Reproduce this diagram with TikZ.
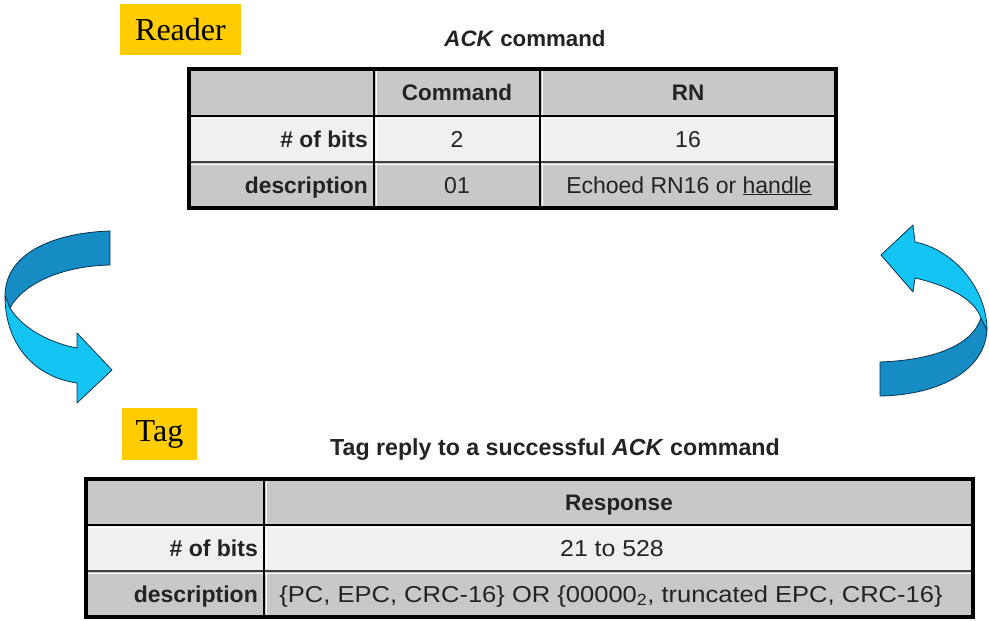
\documentclass[tikz,border=0pt]{standalone}
\usepackage{fontspec}
\setmainfont{Liberation Sans}
\newfontfamily\tnr{Liberation Serif}
\definecolor{ybox}{RGB}{255,204,0}
\definecolor{hgray}{RGB}{200,200,200}
\definecolor{lgray}{RGB}{240,240,240}
\definecolor{alight}{RGB}{20,196,242}
\definecolor{adark}{RGB}{22,140,196}
\definecolor{aline}{RGB}{10,50,80}
\definecolor{txt}{RGB}{35,35,35}
\begin{document}
\begin{tikzpicture}[x=1pt,y=-1pt,
  tagbox/.style={fill=ybox, inner sep=0pt, font=\tnr\fontsize{32}{36}\selectfont},
  ttl/.style={font=\bfseries\fontsize{22.3}{26}\selectfont, inner sep=0pt, anchor=base, text=txt},
  hdr/.style={font=\bfseries\fontsize{22.5}{25}\selectfont, inner sep=0pt, anchor=base, text=txt},
  lbl/.style={font=\bfseries\fontsize{22.8}{25}\selectfont, inner sep=0pt, anchor=base east, text=txt},
  val/.style={font=\fontsize{23}{26}\selectfont, inner sep=0pt, anchor=base, text=txt},
  grid/.style={line width=2.2pt, black},
  frame/.style={line width=4pt, black},
  hl/.style={line width=1pt, white},
  ribbon/.style={draw=aline, line width=0.8pt, line join=round}]
\useasboundingbox (0,0) rectangle (989,621);

% ---------- labels ----------
\node[tagbox, minimum width=121pt, minimum height=51pt] (reader) at (180.5,29.5) {Reader};
\node[tagbox, minimum width=75pt, minimum height=52pt] (tag) at (159.5,434) {Tag};
\node[ttl] (t1) at (525,46) {\textit{ACK} command};
\node[ttl, font=\bfseries\fontsize{23.2}{26}\selectfont] (t2) at (555,455) {Tag reply to a successful \textit{ACK} command};

% ---------- top table ----------
\fill[hgray] (189,69) rectangle (836,116);
\fill[lgray] (189,116) rectangle (836,162);
\fill[hgray] (189,162) rectangle (836,208);
\draw[hl] (191,118) -- (834,118);
\draw[hl] (191,164) -- (834,164);
\draw[hl] (376,71) -- (376,206);
\draw[hl] (542,71) -- (542,206);
\draw[grid] (189,116) -- (836,116);
\draw[grid, line width=1.4pt, black!75] (189,162) -- (836,162);
\draw[grid] (374,69) -- (374,208);
\draw[grid] (540,69) -- (540,208);
\draw[frame] (189,69) rectangle (836,208);

\node[hdr] (c1) at (457,100) {Command};
\node[hdr] (c2) at (688,100) {RN};
\node[lbl] (r1) at (368,147) {\# of bits};
\node[val] (v11) at (457,147) {2};
\node[val] (v12) at (688,147) {16};
\node[lbl] (r2) at (368,193) {description};
\node[val] (v21) at (457,193) {01};
\node[val] (v22) at (689,193) {Echoed RN16 or \underline{handle}};

% ---------- bottom table ----------
\fill[hgray] (86,479) rectangle (973,525);
\fill[lgray] (86,525) rectangle (973,571);
\fill[hgray] (86,571) rectangle (973,617);
\draw[hl] (88,527) -- (971,527);
\draw[hl] (88,573) -- (971,573);
\draw[hl] (266,481) -- (266,615);
\draw[grid] (86,525) -- (973,525);
\draw[grid, line width=1.4pt, black!75] (86,571) -- (973,571);
\draw[grid] (264,479) -- (264,617);
\draw[frame] (86,479) rectangle (973,617);

\node[hdr] (b0) at (619,510) {Response};
\node[lbl, font=\bfseries\fontsize{23}{25}\selectfont] (b1) at (258,556) {\# of bits};
\node[val] (bv1) at (612,556) {\scalebox{1.08}[1]{21 to 528}};
\node[lbl, font=\bfseries\fontsize{23}{25}\selectfont] (b2) at (258,602) {description};
\node[val] (bv2) at (611,602) {\scalebox{1.11}[1]{\{PC, EPC, CRC-16\} OR \{00000\textsubscript{2}, truncated EPC, CRC-16\}}};

% ---------- left ribbon arrow ----------
\filldraw[ribbon, fill=adark]
  (110,231) .. controls (50,233) and (5,255) .. (5,296)
  -- (10,308) .. controls (22,285) and (60,266) .. (110,265) -- cycle;
\filldraw[ribbon, fill=alight]
  (5,296) .. controls (5,345) and (35,377) .. (77,383)
  -- (77,403) -- (112,370) -- (77,333) -- (77,348)
  .. controls (45,342) and (20,325) .. (10,308) -- cycle;

% ---------- right ribbon arrow ----------
\filldraw[ribbon, fill=adark]
  (880,362) .. controls (935,360) and (972,345) .. (981,318)
  -- (987,330) .. controls (985,370) and (940,395) .. (880,396) -- cycle;
\filldraw[ribbon, fill=alight]
  (881,255) -- (913,225) -- (915,242)
  .. controls (955,250) and (987,290) .. (987,330)
  -- (981,318) .. controls (975,300) and (950,286) .. (915,278)
  -- (913,292) -- cycle;
\end{tikzpicture}
\end{document}
